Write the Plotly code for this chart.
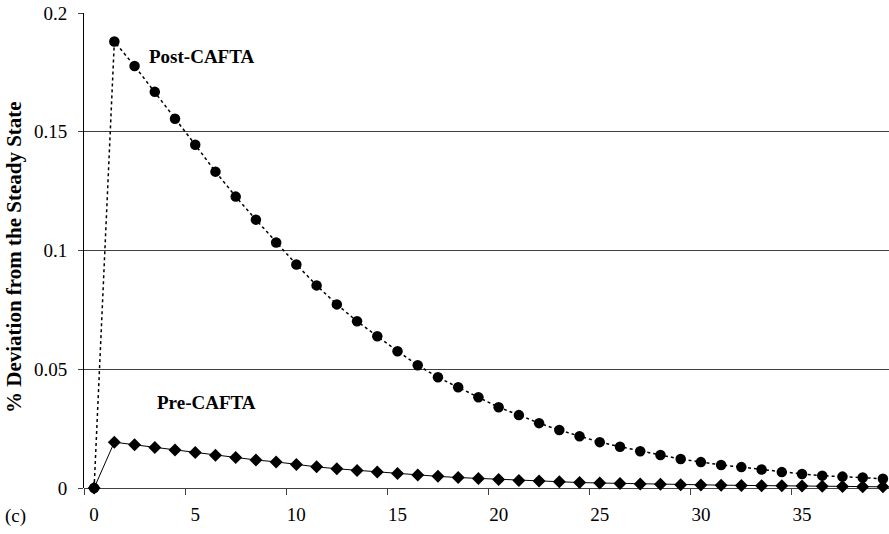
import plotly.graph_objects as go

periods = list(range(40))
post_cafta = [0.0, 0.188, 0.1777, 0.1668, 0.1555, 0.1445, 0.1332, 0.1227, 0.113, 0.1034,
              0.0941, 0.0853, 0.0773, 0.0702, 0.0639, 0.0576, 0.0517, 0.0466, 0.0424, 0.0382,
              0.034, 0.0307, 0.0273, 0.0244, 0.0218, 0.0193, 0.0174, 0.0155, 0.0139, 0.0122,
              0.0109, 0.0097, 0.0088, 0.0078, 0.0067, 0.0059, 0.0052, 0.0048, 0.0044, 0.0039]
pre_cafta = [0.0, 0.0193, 0.0182, 0.0171, 0.016, 0.015, 0.0138, 0.0128, 0.0118, 0.011,
             0.0099, 0.0089, 0.0081, 0.0074, 0.0067, 0.0061, 0.0055, 0.0049, 0.0044, 0.004,
             0.0036, 0.0032, 0.0029, 0.0026, 0.0023, 0.0021, 0.0019, 0.0017, 0.0016, 0.0014,
             0.0013, 0.0012, 0.0011, 0.001, 0.0009, 0.0008, 0.0007, 0.0006, 0.0005, 0.0005]
y_ticks = [0, 0.05, 0.1, 0.15, 0.2]
y_tick_labels = ["0", "0.05", "0.1", "0.15", "0.2"]
x_ticks = [0, 5, 10, 15, 20, 25, 30, 35]

font_family = "Liberation Serif"
W, H = 889, 534
ML, MR, MT, MB = 84, 0, 13, 46
plot_w = W - ML - MR
plot_h = H - MT - MB


def px_to_paper(px, py):
    return (px - ML) / plot_w, (H - MB - py) / plot_h


fig = go.Figure()
fig.add_trace(go.Scatter(
    x=periods, y=pre_cafta, mode="lines+markers", name="Pre-CAFTA",
    line=dict(color="black", width=1),
    marker=dict(symbol="diamond", size=10, color="black"),
    cliponaxis=False,
))
fig.add_trace(go.Scatter(
    x=periods, y=post_cafta, mode="lines+markers", name="Post-CAFTA",
    line=dict(color="black", width=1.5, dash="dot"),
    marker=dict(symbol="circle", size=10.5, color="black"),
    cliponaxis=False,
))

post_x, post_y = px_to_paper(201, 56)
pre_x, pre_y = px_to_paper(206, 402)
ttl_x, ttl_y = px_to_paper(14, 257)
c_x, c_y = px_to_paper(15, 516)

fig.update_layout(
    width=W, height=H,
    margin=dict(l=ML, r=MR, t=MT, b=MB),
    plot_bgcolor="white", paper_bgcolor="white",
    showlegend=False,
    font=dict(family=font_family, size=19, color="black"),
    xaxis=dict(
        range=[-0.5, 39.3],
        tickvals=x_ticks, ticks="",
        ticklabelstandoff=13,
        showgrid=False, zeroline=False,
        showline=False,
        tickfont=dict(family=font_family, size=19),
        minor=dict(tick0=-0.5, dtick=5, ticks="outside", ticklen=6,
                   tickcolor="#404040", tickwidth=1, showgrid=False),
    ),
    yaxis=dict(
        range=[0, 0.2],
        tickvals=y_ticks, ticktext=y_tick_labels,
        ticks="outside", ticklen=5, tickcolor="#404040",
        ticklabelstandoff=7,
        showgrid=True, gridcolor="#404040", gridwidth=1,
        zeroline=True, zerolinecolor="#404040", zerolinewidth=1,
        showline=True, linecolor="black", linewidth=1,
        tickfont=dict(family=font_family, size=19),
    ),
    annotations=[
        dict(text="<b>Post-CAFTA</b>", x=post_x, y=post_y, xref="paper", yref="paper",
             showarrow=False, font=dict(family=font_family, size=19),
             xanchor="center", yanchor="middle"),
        dict(text="<b>Pre-CAFTA</b>", x=pre_x, y=pre_y, xref="paper", yref="paper",
             showarrow=False, font=dict(family=font_family, size=19),
             xanchor="center", yanchor="middle"),
        dict(text="<b>% Deviation from the Steady State</b>", x=ttl_x, y=ttl_y,
             xref="paper", yref="paper", showarrow=False, textangle=-90,
             font=dict(family=font_family, size=21),
             xanchor="center", yanchor="middle"),
        dict(text="(c)", x=c_x, y=c_y, xref="paper", yref="paper", showarrow=False,
             font=dict(family=font_family, size=19),
             xanchor="center", yanchor="middle"),
    ],
)

fig.write_html("out.html", config={"displayModeBar": False},
               post_script="document.body.style.margin='0px';document.body.style.overflow='hidden';")
